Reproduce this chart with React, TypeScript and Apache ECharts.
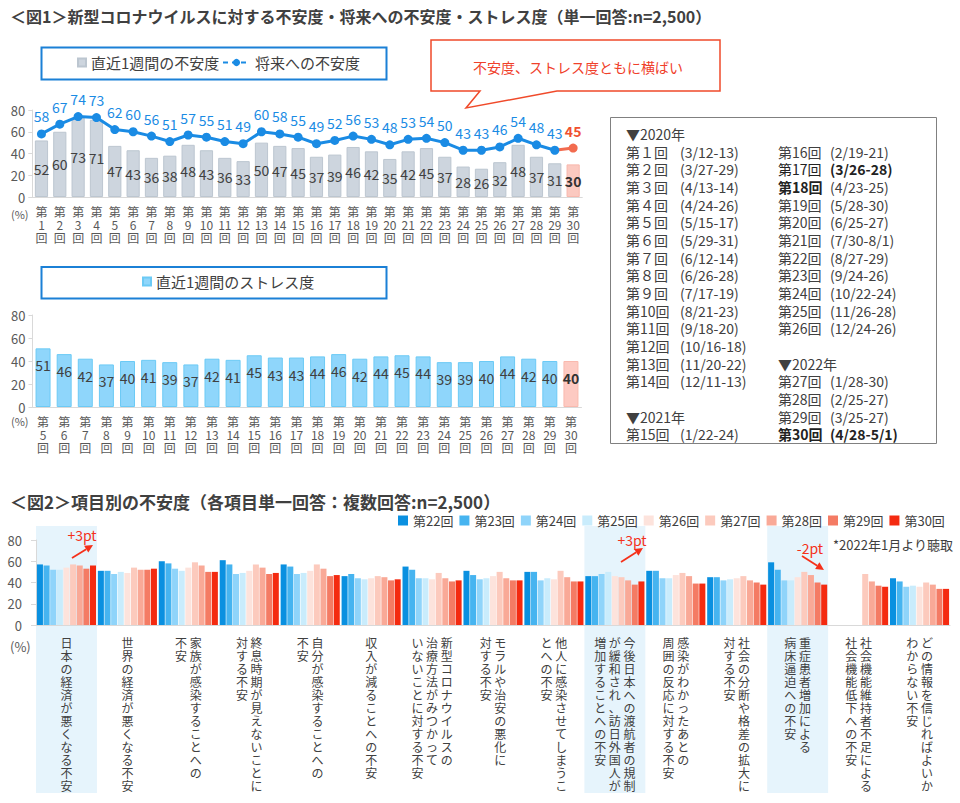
import React, { useEffect, useRef } from 'react';
import * as echarts from 'echarts';

const FONT = '"Noto Sans CJK JP", "Noto Sans", sans-serif';

// ---------- 図1 data ----------
const fig1Rounds = ['第1回','第2回','第3回','第4回','第5回','第6回','第7回','第8回','第9回','第10回','第11回','第12回','第13回','第14回','第15回','第16回','第17回','第18回','第19回','第20回','第21回','第22回','第23回','第24回','第25回','第26回','第27回','第28回','第29回','第30回'];
const fig1WeekAnxiety = [52,60,73,71,47,43,36,38,48,43,36,33,50,47,45,37,39,46,42,35,42,45,37,28,26,32,48,37,31,30];
const fig1FutureAnxiety = [58,67,74,73,62,60,56,51,57,55,51,49,60,58,55,49,52,56,53,48,53,54,50,43,43,46,54,48,43,45];
const fig1StressRounds = ['第5回','第6回','第7回','第8回','第9回','第10回','第11回','第12回','第13回','第14回','第15回','第16回','第17回','第18回','第19回','第20回','第21回','第22回','第23回','第24回','第25回','第26回','第27回','第28回','第29回','第30回'];
const fig1WeekStress = [51,46,42,37,40,41,39,37,42,41,45,43,43,44,46,42,44,45,44,39,39,40,44,42,40,40];

const surveyDates = ['3/12-13','3/27-29','4/13-14','4/24-26','5/15-17','5/29-31','6/12-14','6/26-28','7/17-19','8/21-23','9/18-20','10/16-18','11/20-22','12/11-13','1/22-24','2/19-21','3/26-28','4/23-25','5/28-30','6/25-27','7/30-8/1','8/27-29','9/24-26','10/22-24','11/26-28','12/24-26','1/28-30','2/25-27','3/25-27','4/28-5/1'];
const boxColumn1 = ['▼2020年',1,2,3,4,5,6,7,8,9,10,11,12,13,14,null,'▼2021年',15];
const boxColumn2 = [null,16,17,18,19,20,21,22,23,24,25,26,null,'▼2022年',27,28,29,30];

// ---------- 図2 data ----------
const fig2Items = ['日本の経済が悪くなる不安','世界の経済が悪くなる不安','家族が感染することへの不安','終息時期が見えないことに対する不安','自分が感染することへの不安','収入が減ることへの不安','新型コロナウイルスの治療方法がみつかっていないことに対する不安','モラルや治安の悪化に対する不安','他人に感染させてしまうことへの不安','今後日本への渡航者の規制が緩和され、訪日外国人が増加することへの不安','感染がわかったあとの周囲の反応に対する不安','社会の分断や格差の拡大に対する不安','重症患者増加による病床逼迫への不安','社会機能維持者不足による社会機能低下への不安','どの情報を信じればよいかわからない不安'];
const fig2ItemLines = [
  ['日本の経済が悪くなる不安'],
  ['世界の経済が悪くなる不安'],
  ['家族が感染することへの','不安'],
  ['終息時期が見えないことに','対する不安'],
  ['自分が感染することへの','不安'],
  ['収入が減ることへの不安'],
  ['新型コロナウイルスの','治療方法がみつかって','いないことに対する不安'],
  ['モラルや治安の悪化に','対する不安'],
  ['他人に感染させてしまうこ','とへの不安'],
  ['今後日本への渡航者の規制','が緩和され、訪日外国人が','増加することへの不安'],
  ['感染がわかったあとの','周囲の反応に対する不安'],
  ['社会の分断や格差の拡大に','対する不安'],
  ['重症患者増加による','病床逼迫への不安'],
  ['社会機能維持者不足による','社会機能低下への不安'],
  ['どの情報を信じればよいか','わからない不安'],
];
const fig2Rounds = ['第22回','第23回','第24回','第25回','第26回','第27回','第28回','第29回','第30回'];
const fig2R22 = [57,51,60,61,57,46,55,51,50,46,51,45,59,null,44];
const fig2R23 = [56,51,58,57,55,48,52,47,50,46,51,45,52,null,41];
const fig2R24 = [52,48,53,48,48,44,44,43,42,48,44,42,42,null,36];
const fig2R25 = [52,50,51,49,49,43,44,44,44,50,44,43,42,null,37];
const fig2R26 = [54,49,54,51,51,44,43,46,43,46,47,44,45,null,36];
const fig2R27 = [57,54,59,57,57,46,49,50,51,45,49,46,50,48,40];
const fig2R28 = [56,52,56,54,53,45,44,44,45,42,46,42,47,41,38];
const fig2R29 = [53,52,50,48,46,42,41,42,41,38,39,40,40,37,34];
const fig2R30 = [56,53,50,49,47,43,42,42,41,41,39,38,38,36,34];
const fig2Values = [fig2R22, fig2R23, fig2R24, fig2R25, fig2R26, fig2R27, fig2R28, fig2R29, fig2R30];
const fig2Highlighted = ['日本の経済が悪くなる不安','今後日本への渡航者の規制が緩和され、訪日外国人が増加することへの不安','重症患者増加による病床逼迫への不安'];

// ---------- styles ----------
const fig2Colors = ['#0a90e0','#46b4f0','#8fd4fa','#c9ecfc','#fde3dc','#fccabd','#f9a997','#f47b64','#f42a10'];
const TEXT = '#404040';
const AXIS_TEXT = '#595959';
const AXIS_LINE = '#d9d9d9';
const BLUE = '#1a8be4';
const RED_LINE = '#f26b4f';

const FULL = '０１２３４５６７８９';
const roundLabel = (n: number) => (n < 10 ? `第${FULL[n]}回` : `第${n}回`);

function verticalRound(v: string) {
  const m = v.match(/第(\d+)回/);
  return '第\n' + (m ? m[1] : '') + '\n回';
}

// vertical (tategaki) label: first column on the right
function verticalLabel(cols: string[]) {
  const chars = cols.map((c) => Array.from(c)).reverse();
  const n = Math.max(...chars.map((c) => c.length));
  const lines: string[] = [];
  for (let i = 0; i < n; i++) {
    lines.push(chars.map((c) => c[i] ?? '　').join(' '));
  }
  return lines.join('\n');
}

function txt(text: string, x: number, y: number, o: any = {}) {
  return {
    type: 'text',
    z: o.z ?? 10,
    style: {
      text,
      x,
      y,
      fill: o.fill ?? TEXT,
      fontSize: o.fontSize ?? 14,
      fontWeight: o.fontWeight ?? 'normal',
      fontFamily: FONT,
      align: o.align ?? 'left',
      textAlign: o.align ?? 'left',
      verticalAlign: 'middle',
      textVerticalAlign: 'middle',
    },
  };
}

function arrow(x1: number, y1: number, x2: number, y2: number, color: string) {
  const dx = x2 - x1, dy = y2 - y1;
  const len = Math.hypot(dx, dy);
  const ux = dx / len, uy = dy / len;
  const px = -uy, py = ux;
  const L = 8, W = 4;
  const bx = x2 - ux * L, by = y2 - uy * L;
  return [
    { type: 'line', z: 10, shape: { x1, y1, x2: bx, y2: by }, style: { stroke: color, lineWidth: 1.8 } },
    { type: 'polygon', z: 10, shape: { points: [[x2, y2], [bx + px * W, by + py * W], [bx - px * W, by - py * W]] }, style: { fill: color } },
  ];
}

function buildOption() {
  const last1 = fig1WeekAnxiety.length - 1;
  const lastS = fig1WeekStress.length - 1;
  const baseAxisLabel = { fontFamily: FONT, color: AXIS_TEXT, fontSize: 13 };
  const yAxisCommon = {
    type: 'value', min: 0, max: 80, interval: 20,
    axisLine: { show: true, lineStyle: { color: AXIS_LINE } },
    axisTick: { show: true, length: 4, lineStyle: { color: AXIS_LINE } },
    splitLine: { show: false },
  };
  const roundAxisLabel = {
    interval: 0, margin: 8, formatter: verticalRound,
    fontFamily: FONT, color: AXIS_TEXT, fontSize: 12, lineHeight: 13, verticalAlign: 'top',
  };
  return {
    animation: false,
    backgroundColor: '#ffffff',
    textStyle: { fontFamily: FONT },
    grid: [
      { left: 32.3, top: 110, width: 550, height: 87 },
      { left: 32.5, top: 315, width: 549, height: 92 },
      { left: 36, top: 540, width: 914, height: 85 },
    ],
    legend: [
      { data: ['直近1週間の不安度'], left: 77, top: 55, padding: 0, itemWidth: 8, itemHeight: 8, icon: 'rect', textStyle: { fontSize: 15, color: TEXT, fontFamily: FONT } },
      { data: ['将来への不安度'], left: 222, top: 55, padding: 0, itemWidth: 27, itemHeight: 9, lineStyle: { type: [5, 4], width: 2 }, textStyle: { fontSize: 15, color: TEXT, fontFamily: FONT } },
      { data: ['直近1週間のストレス度'], left: 142, top: 274, padding: 0, itemWidth: 8, itemHeight: 8, icon: 'rect', textStyle: { fontSize: 15, color: TEXT, fontFamily: FONT } },
      { data: fig2Rounds, left: 398, top: 514, padding: 0, itemWidth: 10, itemHeight: 10, itemGap: 6, icon: 'rect', textStyle: { fontSize: 13, color: TEXT, fontFamily: FONT, width: 42 } },
    ],
    xAxis: [
      { gridIndex: 0, type: 'category', data: fig1Rounds, axisLine: { lineStyle: { color: AXIS_LINE } }, axisTick: { show: false }, axisLabel: roundAxisLabel },
      { gridIndex: 1, type: 'category', data: fig1StressRounds, axisLine: { lineStyle: { color: AXIS_LINE } }, axisTick: { show: false }, axisLabel: roundAxisLabel },
      {
        gridIndex: 2, type: 'category', data: fig2Items, axisLine: { lineStyle: { color: AXIS_LINE } }, axisTick: { show: false },
        axisLabel: {
          interval: 0, margin: 11, verticalAlign: 'top',
          formatter: (_v: string, idx: number) => verticalLabel(fig2ItemLines[idx]),
          fontSize: 12, lineHeight: 13, color: TEXT, fontFamily: FONT,
        },
      },
    ],
    yAxis: [
      { ...yAxisCommon, gridIndex: 0, axisLabel: { ...baseAxisLabel, margin: 7 } },
      { ...yAxisCommon, gridIndex: 1, axisLabel: { ...baseAxisLabel, margin: 7 } },
      { ...yAxisCommon, gridIndex: 2, axisTick: { show: true, length: 5, lineStyle: { color: AXIS_LINE } }, axisLabel: { ...baseAxisLabel, margin: 14 } },
    ],
    series: [
      {
        name: '直近1週間の不安度', type: 'bar', xAxisIndex: 0, yAxisIndex: 0, barWidth: '72%',
        itemStyle: { color: '#cdd5de', borderColor: '#bcc6d0', borderWidth: 1 },
        label: { show: true, position: 'inside', color: TEXT, fontSize: 14, fontFamily: FONT },
        data: fig1WeekAnxiety.map((v, i) => i === last1
          ? { value: v, itemStyle: { color: '#fbc9c0', borderColor: '#f8b8ad' }, label: { fontWeight: 'bold', color: '#333' } }
          : v),
      },
      {
        name: '将来への不安度(第30回)', type: 'line', xAxisIndex: 0, yAxisIndex: 0,
        symbol: 'circle', symbolSize: 9,
        lineStyle: { color: RED_LINE, width: 3 }, itemStyle: { color: RED_LINE },
        label: { show: true, position: 'top', distance: 6, color: '#f0502f', fontSize: 14, fontWeight: 'bold', fontFamily: FONT },
        data: fig1FutureAnxiety.map((v, i) => {
          if (i === last1) return { value: v };
          if (i === last1 - 1) return { value: v, symbol: 'none', label: { show: false } };
          return null;
        }),
      },
      {
        name: '将来への不安度', type: 'line', xAxisIndex: 0, yAxisIndex: 0,
        symbol: 'circle', symbolSize: 9,
        lineStyle: { color: BLUE, width: 3 }, itemStyle: { color: BLUE },
        label: { show: true, position: 'top', distance: 6, color: BLUE, fontSize: 14, fontFamily: FONT },
        data: fig1FutureAnxiety.map((v, i) => (i === last1 ? null : v)),
      },
      {
        name: '直近1週間のストレス度', type: 'bar', xAxisIndex: 1, yAxisIndex: 1, barWidth: '71%',
        itemStyle: { color: '#8fd6fb', borderColor: '#6ccaf5', borderWidth: 1 },
        label: { show: true, position: 'insideTop', distance: 10, color: TEXT, fontSize: 14, fontFamily: FONT },
        data: fig1WeekStress.map((v, i) => i === lastS
          ? { value: v, itemStyle: { color: '#fdcac2', borderColor: '#f9b9ae' }, label: { fontWeight: 'bold', color: '#333' } }
          : v),
      },
      ...fig2Rounds.map((name, k) => ({
        name, type: 'bar', xAxisIndex: 2, yAxisIndex: 2,
        barGap: '10%', barCategoryGap: '3%',
        itemStyle: { color: fig2Colors[k] },
        data: fig2Values[k],
      })),
    ],
  };
}

function staticGraphic() {
  const g: any[] = [];
  g.push(txt('＜図1＞新型コロナウイルスに対する不安度・将来への不安度・ストレス度（単一回答:n=2,500）', 10, 16, { fontSize: 16, fontWeight: 'bold' }));
  g.push(txt('＜図2＞項目別の不安度（各項目単一回答：複数回答:n=2,500）', 10, 501, { fontSize: 17, fontWeight: 'bold' }));
  // legend boxes
  g.push({ type: 'rect', z: 5, shape: { x: 41.5, y: 47.5, width: 345, height: 32 }, style: { fill: 'none', stroke: '#1b80d6', lineWidth: 2 } });
  g.push({ type: 'rect', z: 5, shape: { x: 41.5, y: 267, width: 345, height: 31.5 }, style: { fill: 'none', stroke: '#1b80d6', lineWidth: 2 } });
  // callout
  g.push({
    type: 'polygon', z: 5,
    shape: { points: [[431, 40], [720, 40], [720, 91], [557, 91], [466, 108], [480, 91], [431, 91]] },
    style: { fill: '#ffffff', stroke: '#f04a2a', lineWidth: 1.5 },
  });
  g.push(txt('不安度、ストレス度ともに横ばい', 578, 67, { fill: '#f0402a', fontSize: 14, align: 'center' }));
  // (%) labels
  g.push(txt('(%)', 11, 214, { fontSize: 11, fill: AXIS_TEXT }));
  g.push(txt('(%)', 11, 421, { fontSize: 11, fill: AXIS_TEXT }));
  g.push(txt('(%)', 10, 646, { fontSize: 13, fill: AXIS_TEXT }));
  // date box
  g.push({ type: 'rect', z: 5, shape: { x: 610.5, y: 117.5, width: 326, height: 326 }, style: { fill: '#ffffff', stroke: '#808080', lineWidth: 1 } });
  const rowY = (r: number) => 134 + r * 17.67;
  const addCol = (rows: any[], x: number, dx: number) => {
    rows.forEach((item, r) => {
      if (item === null) return;
      if (typeof item === 'string') {
        g.push(txt(item, x, rowY(r), { fontSize: 14 }));
      } else {
        const bold = item === 30;
        g.push(txt(roundLabel(item), x, rowY(r), { fontSize: 14, fontWeight: bold || item === 18 ? 'bold' : 'normal', fill: bold || item === 17 || item === 18 ? '#222' : TEXT }));
        g.push(txt(`(${surveyDates[item - 1]})`, x + dx, rowY(r), { fontSize: 14, fontWeight: bold || item === 17 ? 'bold' : 'normal', fill: bold || item === 17 ? '#222' : TEXT }));
      }
    });
  };
  addCol(boxColumn1, 626, 54);
  addCol(boxColumn2, 778, 52);
  // fig2 notes
  g.push(txt('*2022年1月より聴取', 833, 544, { fontSize: 13 }));
  const RED = '#f5301a';
  g.push(txt('+3pt', 82, 535, { fontSize: 14, fill: RED, align: 'center' }));
  g.push(...arrow(72, 558, 93, 545, RED));
  g.push(txt('+3pt', 632, 540, { fontSize: 14, fill: RED, align: 'center' }));
  g.push(...arrow(621, 562, 643, 548, RED));
  g.push(txt('-2pt', 810, 548, { fontSize: 14, fill: RED, align: 'center' }));
  g.push(...arrow(802, 556, 824, 570, RED));
  return g;
}

export default function App() {
  const ref = useRef<HTMLDivElement>(null);
  useEffect(() => {
    document.body.style.margin = '0';
    const chart = echarts.init(ref.current as HTMLDivElement, undefined, { renderer: 'svg' });
    chart.setOption(buildOption() as any);
    const c0 = chart.convertToPixel({ xAxisIndex: 2 } as any, fig2Items[0]) as unknown as number;
    const c1 = chart.convertToPixel({ xAxisIndex: 2 } as any, fig2Items[1]) as unknown as number;
    const band = c1 - c0;
    const highlights = fig2Highlighted.map((name) => {
      const cx = chart.convertToPixel({ xAxisIndex: 2 } as any, name) as unknown as number;
      return { type: 'rect', z: -1, shape: { x: cx - band / 2, y: 526, width: band, height: 267 }, style: { fill: '#e6f4fc' } };
    });
    chart.setOption({ graphic: [...highlights, ...staticGraphic()] } as any);
    return () => chart.dispose();
  }, []);
  return <div ref={ref} style={{ width: 960, height: 803 }} />;
}
